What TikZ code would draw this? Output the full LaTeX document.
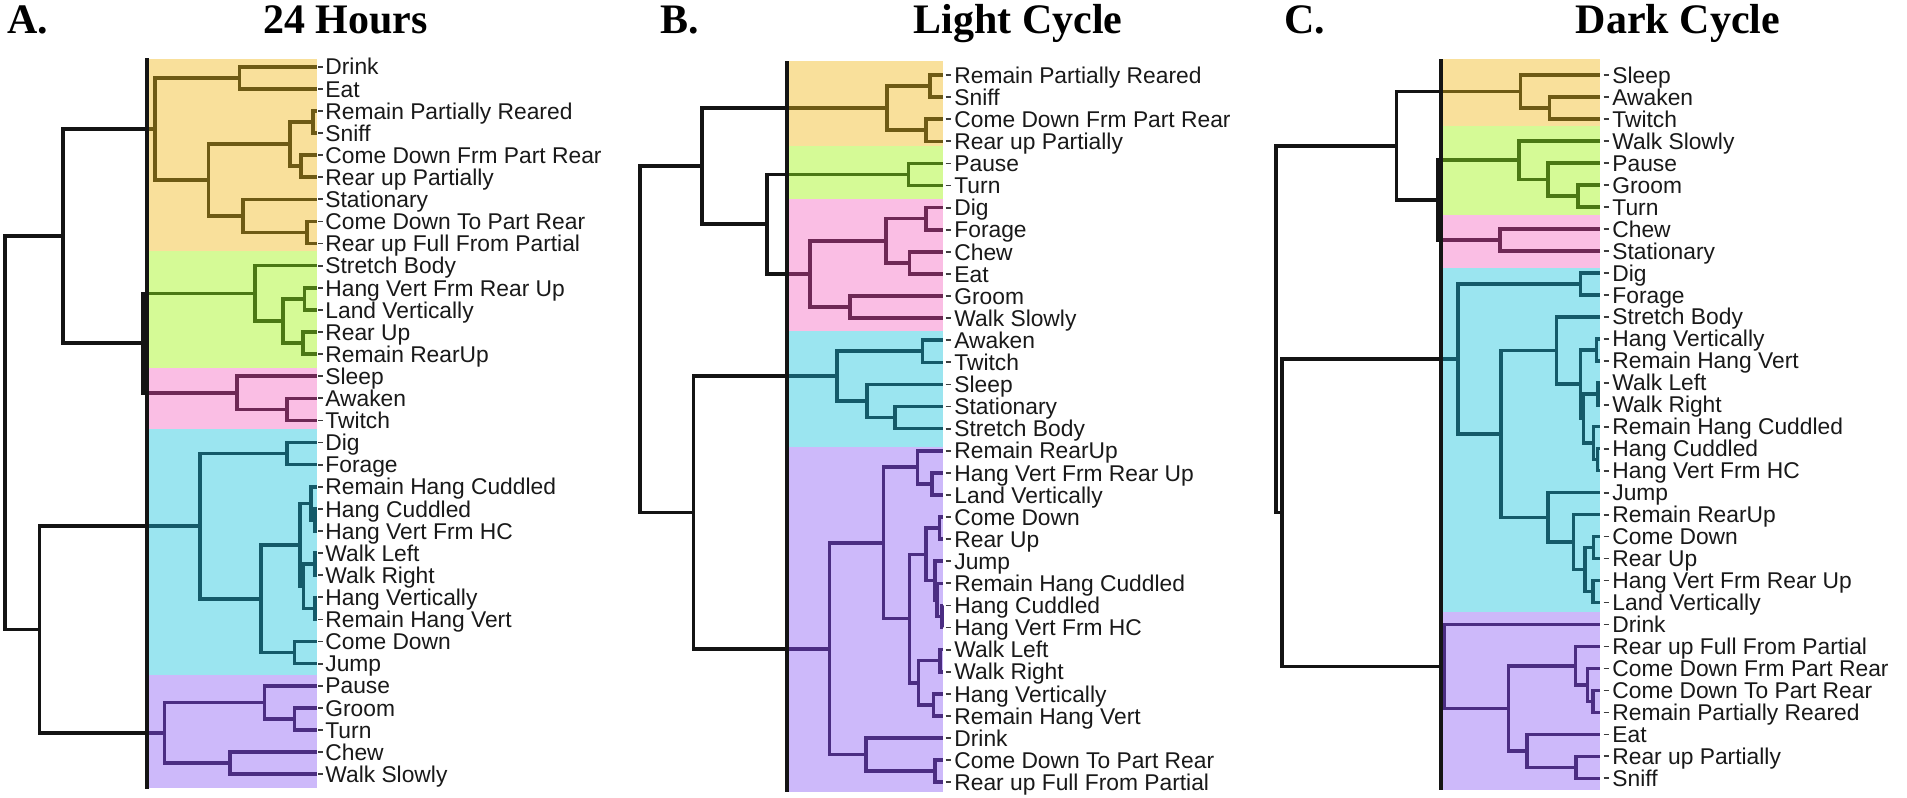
\documentclass[tikz,border=0pt]{standalone}
\usepackage{fontspec}
\setmainfont{Liberation Sans}
\newfontfamily\titlefont{Liberation Serif}
\usetikzlibrary{calc}

\definecolor{bgY}{RGB}{249,224,155}
\definecolor{bgG}{RGB}{213,250,150}
\definecolor{bgP}{RGB}{250,190,228}
\definecolor{bgC}{RGB}{155,229,240}
\definecolor{bgU}{RGB}{205,185,250}
\definecolor{lnY}{RGB}{110,90,20}
\definecolor{lnG}{RGB}{75,120,20}
\definecolor{lnP}{RGB}{110,40,85}
\definecolor{lnC}{RGB}{20,90,105}
\definecolor{lnU}{RGB}{75,45,130}
\definecolor{lnK}{RGB}{20,20,20}
\definecolor{tk}{RGB}{60,60,60}
\definecolor{txt}{RGB}{25,25,25}

\tikzset{
  lab/.style={anchor=base west, inner sep=0pt, text=txt, font=\fontsize{11.4}{13}\selectfont},
  ttl/.style={anchor=base, inner sep=0pt, text=black, font=\titlefont\bfseries\fontsize{21}{24}\selectfont},
  br/.style={line width=1.8pt},
  cY/.style={br, draw=lnY},
  cG/.style={br, draw=lnG},
  cP/.style={br, draw=lnP},
  cC/.style={br, draw=lnC},
  cU/.style={br, draw=lnU},
  blk/.style={br, draw=lnK},
  cutline/.style={line width=1.8pt, draw=lnK},
  tick/.style={line width=0.9pt, draw=tk},
}

% #1 name, #2 x, #3 child1, #4 child2, #5 style
\newcommand\mkjoin[5]{%
  \path ($(#3)!0.5!(#4)$) coordinate (#1m);
  \coordinate (#1) at (#2,0 |- #1m);
  \draw[#5] (#1) |- (#3);
  \draw[#5] (#1) |- (#4);
}

\begin{document}
\begin{tikzpicture}[x=0.5pt, y=-0.5pt]
\useasboundingbox (0,0) rectangle (1907,798);
\fill[white] (0,0) rectangle (1907,798);

% ---------- titles ----------
\node[ttl, anchor=base west] (tA) at (7,33.3) {A.};
\node[ttl] (hA) at (345.5,33.3) {24 Hours};
\node[ttl, anchor=base west] (tB) at (660,33.3) {B.};
\node[ttl] (hB) at (1018,33.3) {Light Cycle};
\node[ttl, anchor=base west] (tC) at (1284,33.3) {C.};
\node[ttl] (hC) at (1678,33.3) {Dark Cycle};

% ---------- backgrounds ----------
\fill[bgY] (149,59) rectangle (316.7,251);
\fill[bgG] (149,251) rectangle (316.7,368.3);
\fill[bgP] (149,368.3) rectangle (316.7,429.3);
\fill[bgC] (149,429.3) rectangle (316.7,675);
\fill[bgU] (149,675) rectangle (316.7,788.3);

\fill[bgY] (788,61) rectangle (943.3,146);
\fill[bgG] (788,146) rectangle (943.3,199.3);
\fill[bgP] (788,199.3) rectangle (943.3,330.7);
\fill[bgC] (788,330.7) rectangle (943.3,446.7);
\fill[bgU] (788,446.7) rectangle (943.3,791.7);

\fill[bgY] (1443,59.3) rectangle (1599.5,126);
\fill[bgG] (1443,126) rectangle (1599.5,215);
\fill[bgP] (1443,215) rectangle (1599.5,267.7);
\fill[bgC] (1443,267.7) rectangle (1599.5,611.7);
\fill[bgU] (1443,611.7) rectangle (1599.5,790);

% ---------- leaves ----------
\foreach \t [count=\k from 0] in {Drink, Eat, Remain Partially Reared, Sniff, Come Down Frm Part Rear, Rear up Partially, Stationary, Come Down To Part Rear, Rear up Full From Partial, Stretch Body, Hang Vert Frm Rear Up, Land Vertically, Rear Up, Remain RearUp, Sleep, Awaken, Twitch, Dig, Forage, Remain Hang Cuddled, Hang Cuddled, Hang Vert Frm HC, Walk Left, Walk Right, Hang Vertically, Remain Hang Vert, Come Down, Jump, Pause, Groom, Turn, Chew, Walk Slowly}{
  \pgfmathsetmacro\yy{66.7+22.11*\k}
  \coordinate (A\k) at (316.7,\yy);
  \draw[tick] (318,\yy) -- (322.7,\yy);
  \node[lab] (LA\k) at (325,\yy+8.2) {\t};
}
\foreach \t [count=\k from 0] in {Remain Partially Reared, Sniff, Come Down Frm Part Rear, Rear up Partially, Pause, Turn, Dig, Forage, Chew, Eat, Groom, Walk Slowly, Awaken, Twitch, Sleep, Stationary, Stretch Body, Remain RearUp, Hang Vert Frm Rear Up, Land Vertically, Come Down, Rear Up, Jump, Remain Hang Cuddled, Hang Cuddled, Hang Vert Frm HC, Walk Left, Walk Right, Hang Vertically, Remain Hang Vert, Drink, Come Down To Part Rear, Rear up Full From Partial}{
  \pgfmathsetmacro\yy{75+22.1*\k}
  \coordinate (B\k) at (943.3,\yy);
  \draw[tick] (945.7,\yy) -- (950.7,\yy);
  \node[lab] (LB\k) at (954,\yy+8.2) {\t};
}
\foreach \t [count=\k from 0] in {Sleep, Awaken, Twitch, Walk Slowly, Pause, Groom, Turn, Chew, Stationary, Dig, Forage, Stretch Body, Hang Vertically, Remain Hang Vert, Walk Left, Walk Right, Remain Hang Cuddled, Hang Cuddled, Hang Vert Frm HC, Jump, Remain RearUp, Come Down, Rear Up, Hang Vert Frm Rear Up, Land Vertically, Drink, Rear up Full From Partial, Come Down Frm Part Rear, Come Down To Part Rear, Remain Partially Reared, Eat, Rear up Partially, Sniff}{
  \pgfmathsetmacro\yy{75+21.98*\k}
  \coordinate (C\k) at (1599.5,\yy);
  \draw[tick] (1603.5,\yy) -- (1609,\yy);
  \node[lab] (LC\k) at (1612,\yy+8.2) {\t};
}

% ================= Panel A =================
% yellow
\mkjoin{a1}{239.3}{A0}{A1}{cY}
\mkjoin{a2}{312.7}{A2}{A3}{cY}
\mkjoin{a3}{301}{A4}{A5}{cY}
\mkjoin{a4}{290}{a2}{a3}{cY}
\mkjoin{a5}{306.7}{A7}{A8}{cY}
\mkjoin{a6}{242.7}{A6}{a5}{cY}
\mkjoin{a7}{208.3}{a4}{a6}{cY}
\mkjoin{AY}{155}{a1}{a7}{cY}
% green
\mkjoin{a8}{304.3}{A10}{A11}{cG}
\mkjoin{a9}{302.7}{A12}{A13}{cG}
\mkjoin{a10}{282.7}{a8}{a9}{cG}
\mkjoin{AG}{255}{A9}{a10}{cG}
% pink
\mkjoin{a11}{286.7}{A15}{A16}{cP}
\mkjoin{AP}{236.7}{A14}{a11}{cP}
% cyan
\mkjoin{a12}{286.7}{A17}{A18}{cC}
\mkjoin{a13}{315}{A20}{A21}{cC}
\mkjoin{a14}{311}{A19}{a13}{cC}
\mkjoin{a15}{315}{A22}{A23}{cC}
\mkjoin{a16}{315}{A24}{A25}{cC}
\mkjoin{a17}{303.3}{a15}{a16}{cC}
\mkjoin{a18}{300}{a14}{a17}{cC}
\mkjoin{a19}{294.3}{A26}{A27}{cC}
\mkjoin{a20}{261}{a18}{a19}{cC}
\mkjoin{AC}{200}{a12}{a20}{cC}
% purple
\mkjoin{a21}{294.3}{A29}{A30}{cU}
\mkjoin{a22}{264.3}{A28}{a21}{cU}
\mkjoin{a23}{230}{A31}{A32}{cU}
\mkjoin{AU}{164.3}{a22}{a23}{cU}
% cut points
\coordinate (AYc) at (147,0 |- AY); \draw[cY] (AYc) -- (AY);
\coordinate (AGc) at (147,0 |- AG); \draw[cG] (AGc) -- (AG);
\coordinate (APc) at (147,0 |- AP); \draw[cP] (APc) -- (AP);
\coordinate (ACc) at (147,0 |- AC); \draw[cC] (ACc) -- (AC);
\coordinate (AUc) at (147,0 |- AU); \draw[cU] (AUc) -- (AU);
% black
\mkjoin{nA1}{142.7}{AGc}{APc}{blk}
\mkjoin{nA2}{63}{AYc}{nA1}{blk}
\mkjoin{nA3}{39.3}{ACc}{AUc}{blk}
\mkjoin{nA4}{5}{nA2}{nA3}{blk}
\draw[cutline] (147,58) -- (147,789.3);

% ================= Panel B =================
\mkjoin{b1}{930}{B0}{B1}{cY}
\mkjoin{b2}{926}{B2}{B3}{cY}
\mkjoin{BY}{886.7}{b1}{b2}{cY}
\mkjoin{BG}{908.3}{B4}{B5}{cG}
\mkjoin{b3}{926}{B6}{B7}{cP}
\mkjoin{b4}{909.3}{B8}{B9}{cP}
\mkjoin{b5}{885.7}{b3}{b4}{cP}
\mkjoin{b6}{850}{B10}{B11}{cP}
\mkjoin{BP}{810}{b5}{b6}{cP}
\mkjoin{b7}{922.3}{B12}{B13}{cC}
\mkjoin{b8}{895}{B15}{B16}{cC}
\mkjoin{b9}{866.7}{B14}{b8}{cC}
\mkjoin{BC}{836.7}{b7}{b9}{cC}
\mkjoin{b10}{931.7}{B18}{B19}{cU}
\mkjoin{b11}{917.3}{B17}{b10}{cU}
\mkjoin{b12}{939.3}{B20}{B21}{cU}
\mkjoin{b13}{941.7}{B24}{B25}{cU}
\mkjoin{b14}{936.7}{B23}{b13}{cU}
\mkjoin{b15}{935}{B22}{b14}{cU}
\mkjoin{b16}{925.7}{b12}{b15}{cU}
\mkjoin{b17}{940}{B26}{B27}{cU}
\mkjoin{b18}{933.3}{B28}{B29}{cU}
\mkjoin{b19}{918.3}{b17}{b18}{cU}
\mkjoin{b20}{909.3}{b16}{b19}{cU}
\mkjoin{b21}{883.3}{b11}{b20}{cU}
\mkjoin{b22}{935}{B31}{B32}{cU}
\mkjoin{b23}{866}{B30}{b22}{cU}
\mkjoin{BU}{829.3}{b21}{b23}{cU}
\coordinate (BYc) at (786.7,0 |- BY); \draw[cY] (BYc) -- (BY);
\coordinate (BGc) at (786.7,0 |- BG); \draw[cG] (BGc) -- (BG);
\coordinate (BPc) at (786.7,0 |- BP); \draw[cP] (BPc) -- (BP);
\coordinate (BCc) at (786.7,0 |- BC); \draw[cC] (BCc) -- (BC);
\coordinate (BUc) at (786.7,0 |- BU); \draw[cU] (BUc) -- (BU);
\mkjoin{nB1}{766.7}{BGc}{BPc}{blk}
\mkjoin{nB2}{701.7}{BYc}{nB1}{blk}
\mkjoin{nB3}{693.3}{BCc}{BUc}{blk}
\mkjoin{nB4}{640}{nB2}{nB3}{blk}
\draw[cutline] (786.7,61) -- (786.7,791.7);

% ================= Panel C =================
\mkjoin{c1}{1549.3}{C1}{C2}{cY}
\mkjoin{CY}{1520.4}{C0}{c1}{cY}
\mkjoin{c2}{1578.2}{C5}{C6}{cG}
\mkjoin{c3}{1548}{C4}{c2}{cG}
\mkjoin{CG}{1519.1}{C3}{c3}{cG}
\mkjoin{CP}{1499.9}{C7}{C8}{cP}
\mkjoin{c4}{1580.6}{C9}{C10}{cC}
\mkjoin{c5}{1596.3}{C12}{C13}{cC}
\mkjoin{c6}{1598}{C14}{C15}{cC}
\mkjoin{c7}{1597.5}{C17}{C18}{cC}
\mkjoin{c8}{1593.5}{C16}{c7}{cC}
\mkjoin{c9}{1583.5}{c6}{c8}{cC}
\mkjoin{c10}{1580.6}{c5}{c9}{cC}
\mkjoin{c11}{1556.5}{C11}{c10}{cC}
\mkjoin{c12}{1593.5}{C21}{C22}{cC}
\mkjoin{c13}{1592.7}{C23}{C24}{cC}
\mkjoin{c14}{1584.7}{c12}{c13}{cC}
\mkjoin{c15}{1573.4}{C20}{c14}{cC}
\mkjoin{c16}{1548}{C19}{c15}{cC}
\mkjoin{c17}{1501}{c11}{c16}{cC}
\mkjoin{CC}{1458}{c4}{c17}{cC}
\mkjoin{c18}{1592.7}{C28}{C29}{cU}
\mkjoin{c19}{1587.5}{C27}{c18}{cU}
\mkjoin{c20}{1575.4}{C26}{c19}{cU}
\mkjoin{c21}{1576.2}{C31}{C32}{cU}
\mkjoin{c22}{1527.2}{C30}{c21}{cU}
\mkjoin{c23}{1508.3}{c20}{c22}{cU}
\mkjoin{CU}{1444.5}{C25}{c23}{cU}
\coordinate (CYc) at (1441,0 |- CY); \draw[cY] (CYc) -- (CY);
\coordinate (CGc) at (1441,0 |- CG); \draw[cG] (CGc) -- (CG);
\coordinate (CPc) at (1441,0 |- CP); \draw[cP] (CPc) -- (CP);
\coordinate (CCc) at (1441,0 |- CC); \draw[cC] (CCc) -- (CC);
\coordinate (CUc) at (1441,0 |- CU); \draw[cU] (CUc) -- (CU);
\mkjoin{nC1}{1438}{CGc}{CPc}{blk}
\mkjoin{nC2}{1396.6}{CYc}{nC1}{blk}
\mkjoin{nC3}{1281.7}{CCc}{CUc}{blk}
\mkjoin{nC4}{1276}{nC2}{nC3}{blk}
\draw[cutline] (1441,59.3) -- (1441,790);
\end{tikzpicture}
\end{document}
